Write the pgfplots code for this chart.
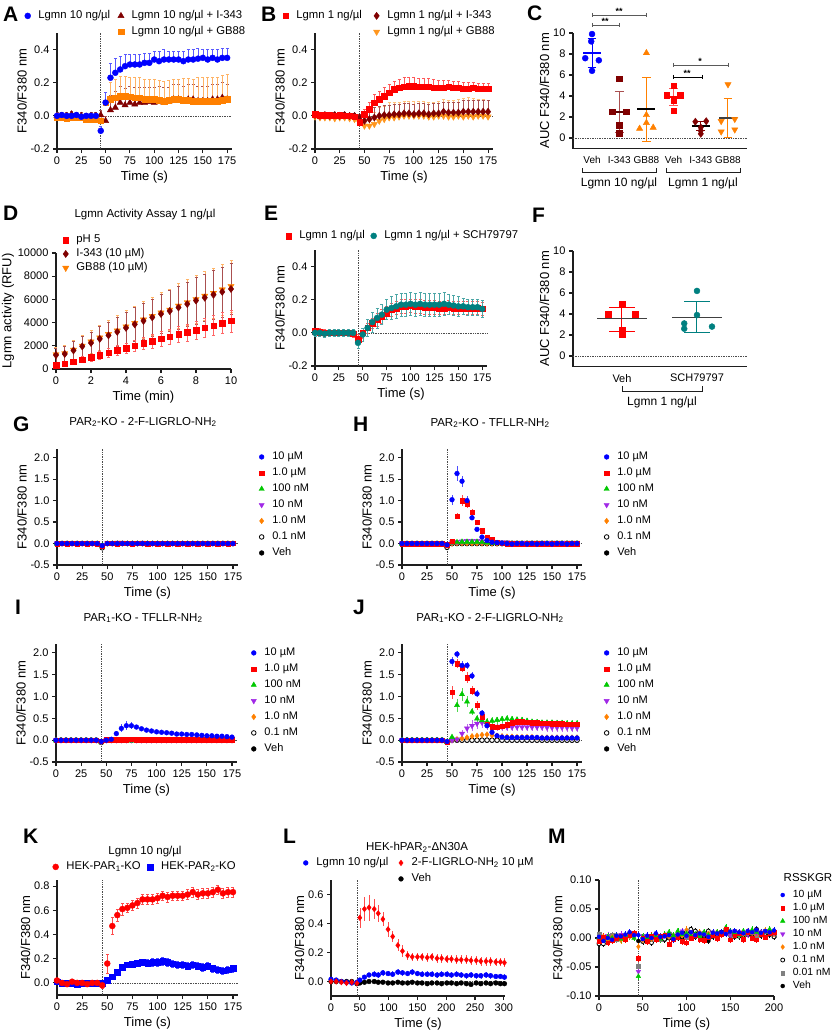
\documentclass[border=0pt]{standalone}
\usepackage{fontspec}
\setmainfont{Liberation Sans}
\usepackage{pgfplots}
\usepackage{pgfplotstable}
\pgfplotsset{compat=1.18}

\definecolor{pblue}{RGB}{0,0,255}
\definecolor{pred}{RGB}{255,0,0}
\definecolor{pmar}{RGB}{128,0,0}
\definecolor{pmarL}{RGB}{170,80,80}
\definecolor{porA}{RGB}{255,128,0}
\definecolor{porB}{RGB}{255,150,30}
\definecolor{predL}{RGB}{255,90,90}
\definecolor{pgreen}{RGB}{0,200,0}
\definecolor{ppur}{RGB}{160,40,230}
\definecolor{pteal}{RGB}{0,128,128}
\definecolor{pgrey}{RGB}{128,128,128}
\definecolor{axc}{RGB}{30,30,30}
\definecolor{sigc}{RGB}{90,90,90}

\newcommand{\lf}{\fontsize{11.3}{13}\selectfont}
\newcommand{\lfs}{\fontsize{11}{13}\selectfont}
\newcommand{\lfm}{\fontsize{10.4}{12}\selectfont}

\pgfplotsset{
 prism/.style={scale only axis, anchor=south west,
  axis x line=bottom, axis y line=left,
  axis line style={line width=1.3pt, axc, -},
  tick style={line width=1.1pt, axc},
  tick align=outside, major tick length=4pt,
  enlargelimits=false, clip=false, scaled ticks=false,
  tick label style={font=\fontsize{11}{13}\selectfont},
  label style={font=\fontsize{13}{15}\selectfont},
  ylabel style={yshift=-3pt},
  /pgf/number format/assume math mode=true,
  legend cell align=left,
  legend style={draw=none, fill=none, inner sep=0pt, outer sep=0pt, anchor=north west,
    font=\fontsize{11.3}{13}\selectfont, row sep=2.2pt,
    nodes={inner sep=1.5pt, text height=8.2pt, text depth=2.6pt}},
  legend image code/.code={\path (0pt,-2pt) (14pt,2pt); \draw[##1] plot coordinates {(5pt,0pt)};},
 },
 tfmt/.style={yticklabel style={/pgf/number format/fixed, /pgf/number format/fixed zerofill, /pgf/number format/precision=#1}},
 vl/.style={densely dotted, line width=0.7pt, black!70, forget plot},
 eb/.style={/pgfplots/error bars/y dir=#1, /pgfplots/error bars/y explicit,
   /pgfplots/error bars/error mark options={rotate=90, mark size=1.5pt, line width=0.5pt}},
 ebn/.style={/pgfplots/error bars/y dir=both, /pgfplots/error bars/y explicit,
   /pgfplots/error bars/error mark=none},
 ebf/.style={/pgfplots/error bars/y dir=both, /pgfplots/error bars/y fixed=#1,
   /pgfplots/error bars/error mark=none},
 ebc/.style={/pgfplots/error bars/error bar style={line width=0.5pt, color=#1}},
 bC/.style={only marks, mark=*, color=#1, mark size=3pt},
 bS/.style={only marks, mark=square*, color=#1, mark size=2.8pt},
 bT/.style={only marks, mark=triangle*, color=#1, mark size=3.6pt},
 bV/.style={only marks, mark=triangle*, color=#1, mark size=3.6pt, mark options={rotate=180}},
 bD/.style={only marks, mark=diamond*, color=#1, mark size=3.6pt},
 sC/.style={only marks, mark=*, color=#1, mark size=2.4pt},
 sS/.style={only marks, mark=square*, color=#1, mark size=2.2pt},
 sT/.style={only marks, mark=triangle*, color=#1, mark size=3pt},
 sV/.style={only marks, mark=triangle*, color=#1, mark size=3pt, mark options={rotate=180}},
 sD/.style={only marks, mark=diamond*, color=#1, mark size=2.8pt},
 sO/.style={only marks, mark=*, color=black, mark size=2.3pt, mark options={fill=white, line width=0.8pt}},
}

\newcommand{\plet}[3]{\node[anchor=base west, inner sep=0pt, font=\fontsize{21}{24}\selectfont\bfseries] at (#1pt,-#2pt) {#3};}
\newcommand{\ptit}[3]{\node[anchor=center, inner sep=0pt, font=\fontsize{11.5}{14}\selectfont] at (#1pt,-#2pt) {#3};}
\newcommand{\sdbar}[6]{%
 \addplot[#1, line width=1pt, forget plot] coordinates {(#2,#3)(#2,#4)};
 \addplot[#1, line width=1pt, forget plot] coordinates {(#5,#4)(#6,#4)};
 \addplot[#1, line width=1pt, forget plot] coordinates {(#5,#3)(#6,#3)};}
\newcommand{\mline}[4]{\addplot[#1, line width=1.3pt, forget plot] coordinates {(#2,#4)(#3,#4)};}
\newcommand{\legseven}{%
 \addlegendimage{sC=pblue}\addlegendentry{\lfs 10 µM}
 \addlegendimage{sS=pred}\addlegendentry{\lfs 1.0 µM}
 \addlegendimage{sT=pgreen}\addlegendentry{\lfs 100 nM}
 \addlegendimage{sV=ppur}\addlegendentry{\lfs 10 nM}
 \addlegendimage{sD=porA}\addlegendentry{\lfs 1.0 nM}
 \addlegendimage{sO}\addlegendentry{\lfs 0.1 nM}
 \addlegendimage{sC=black}\addlegendentry{\lfs Veh}}

\pgfplotstableread{
t b eb m em o eo
0 0.000 0.01 0.000 0.02 -0.010 0.02
5 0.005 0.01 0.000 0.02 -0.010 0.02
10 0.000 0.01 0.000 0.02 -0.015 0.02
15 0.000 0.01 0.010 0.02 -0.010 0.02
20 0.005 0.01 0.000 0.02 -0.010 0.02
25 -0.005 0.01 0.000 0.02 -0.010 0.02
30 0.000 0.01 -0.005 0.02 -0.020 0.02
35 0.000 0.01 0.000 0.02 -0.020 0.02
40 0.000 0.01 0.000 0.02 -0.020 0.02
45 -0.090 0.03 0.005 0.03 -0.030 0.03
50 0.080 0.06 -0.030 0.03 0.080 0.06
55 0.230 0.09 0.035 0.09 0.100 0.10
60 0.260 0.09 0.050 0.10 0.110 0.11
65 0.280 0.08 0.080 0.10 0.120 0.12
70 0.300 0.07 0.065 0.10 0.120 0.12
75 0.310 0.06 0.080 0.10 0.115 0.12
80 0.310 0.06 0.070 0.10 0.110 0.12
85 0.310 0.06 0.080 0.09 0.110 0.12
90 0.320 0.06 0.080 0.09 0.100 0.12
95 0.320 0.06 0.085 0.09 0.100 0.12
100 0.340 0.05 0.080 0.09 0.100 0.12
105 0.330 0.06 0.090 0.09 0.095 0.12
110 0.340 0.06 0.080 0.09 0.090 0.12
115 0.340 0.05 0.085 0.09 0.095 0.12
120 0.340 0.05 0.100 0.09 0.100 0.12
125 0.340 0.05 0.100 0.09 0.100 0.12
130 0.330 0.06 0.090 0.09 0.095 0.13
135 0.340 0.06 0.100 0.09 0.095 0.13
140 0.340 0.06 0.100 0.09 0.090 0.13
145 0.345 0.06 0.090 0.09 0.090 0.14
150 0.350 0.05 0.090 0.09 0.090 0.14
155 0.340 0.06 0.090 0.09 0.090 0.14
160 0.350 0.05 0.100 0.09 0.090 0.14
165 0.340 0.06 0.100 0.09 0.090 0.14
170 0.350 0.06 0.110 0.09 0.095 0.15
175 0.350 0.06 0.100 0.09 0.100 0.15
}\tA

\pgfplotstableread{
t r er m em o eo
0 0.010 0.01 0.005 0.015 -0.005 0.02
5 0.005 0.01 0.000 0.015 -0.010 0.02
10 0.005 0.01 0.005 0.015 -0.010 0.02
15 0.005 0.01 0.000 0.015 -0.010 0.02
20 0.000 0.01 0.005 0.015 -0.015 0.02
25 0.005 0.01 0.000 0.015 -0.010 0.02
30 0.000 0.01 0.005 0.015 -0.010 0.02
35 0.000 0.01 0.000 0.015 -0.015 0.02
40 -0.005 0.01 0.000 0.015 -0.020 0.02
45 -0.040 0.02 -0.010 0.02 -0.040 0.03
50 0.010 0.03 -0.030 0.04 -0.060 0.05
55 0.040 0.04 -0.020 0.05 -0.060 0.06
60 0.080 0.05 -0.010 0.06 -0.050 0.07
65 0.100 0.05 0.000 0.06 -0.030 0.08
70 0.120 0.05 0.005 0.06 -0.020 0.08
75 0.140 0.05 0.005 0.06 -0.010 0.09
80 0.160 0.05 0.010 0.06 -0.010 0.09
85 0.170 0.05 0.010 0.06 -0.005 0.09
90 0.175 0.055 0.015 0.06 0.000 0.09
95 0.180 0.055 0.015 0.06 0.000 0.09
100 0.180 0.055 0.010 0.06 0.000 0.09
105 0.175 0.05 0.015 0.06 0.000 0.09
110 0.175 0.05 0.015 0.06 0.000 0.09
115 0.175 0.05 0.010 0.06 -0.005 0.09
120 0.170 0.05 0.015 0.06 -0.005 0.09
125 0.170 0.045 0.015 0.06 0.000 0.09
130 0.170 0.045 0.025 0.06 0.000 0.10
135 0.175 0.04 0.020 0.06 -0.005 0.10
140 0.170 0.04 0.020 0.06 -0.005 0.10
145 0.170 0.04 0.020 0.06 0.000 0.10
150 0.165 0.035 0.025 0.07 -0.005 0.11
155 0.165 0.035 0.025 0.07 0.000 0.11
160 0.170 0.035 0.025 0.07 -0.005 0.11
165 0.165 0.03 0.025 0.07 0.000 0.10
170 0.165 0.03 0.025 0.07 0.000 0.10
175 0.165 0.03 0.025 0.07 -0.005 0.10
}\tB

\pgfplotstableread{
t p ep i ei g eg
0 350 150 1200 600 1250 650
0.5 450 180 1300 650 1350 700
1 620 220 1600 750 1650 800
1.5 800 260 1950 850 2000 900
2 1000 300 2250 950 2350 1000
2.5 1200 340 2600 1050 2700 1100
3 1400 380 2900 1150 3000 1200
3.5 1620 420 3200 1250 3300 1300
4 1800 460 3550 1350 3650 1400
4.5 2000 500 3850 1450 3950 1500
5 2200 540 4150 1550 4250 1600
5.5 2400 580 4450 1600 4550 1650
6 2600 620 4750 1700 4850 1750
6.5 2780 660 5000 1750 5100 1800
7 2980 700 5300 1850 5450 1900
7.5 3150 740 5600 1900 5750 1950
8 3350 780 5900 2000 6000 2050
8.5 3550 820 6150 2050 6300 2100
9 3750 860 6400 2100 6550 2150
9.5 3950 900 6650 2150 6850 2200
10 4150 940 6900 2200 7150 2250
}\tD

\pgfplotstableread{
t r er s es
0 0.010 0.02 0.000 0.02
5 0.005 0.02 0.000 0.02
10 0.000 0.02 -0.005 0.02
15 0.000 0.02 0.000 0.02
20 0.000 0.02 0.000 0.02
25 0.000 0.02 0.000 0.02
30 0.000 0.02 0.000 0.02
35 0.000 0.02 0.000 0.02
40 -0.005 0.02 0.000 0.02
45 -0.040 0.03 -0.060 0.03
50 0.000 0.03 -0.010 0.04
55 0.030 0.03 0.030 0.05
60 0.060 0.03 0.065 0.06
65 0.080 0.04 0.090 0.06
70 0.100 0.04 0.110 0.06
75 0.120 0.04 0.140 0.06
80 0.140 0.04 0.150 0.07
85 0.150 0.04 0.160 0.07
90 0.160 0.04 0.170 0.07
95 0.160 0.04 0.170 0.07
100 0.165 0.04 0.175 0.07
105 0.160 0.04 0.170 0.07
110 0.160 0.04 0.175 0.07
115 0.155 0.04 0.170 0.07
120 0.155 0.04 0.170 0.07
125 0.155 0.04 0.170 0.07
130 0.150 0.04 0.170 0.07
135 0.150 0.04 0.175 0.07
140 0.155 0.04 0.170 0.06
145 0.150 0.04 0.165 0.06
150 0.150 0.04 0.160 0.06
155 0.150 0.04 0.160 0.05
160 0.150 0.04 0.155 0.05
165 0.150 0.04 0.155 0.05
170 0.150 0.04 0.155 0.05
175 0.145 0.04 0.145 0.05
}\tE

\pgfplotstableread{
t a b c d e f g
0 0 0 -0.01 0.01 0 0 0
5 0 0.01 -0.01 0.01 0 0 0
10 0 0 -0.01 0.01 0 0 0
15 0 0.01 -0.01 0.01 0 0 0
20 0 0 -0.01 0.01 0 0 0
25 0 0.01 -0.01 0.01 0 0 0
30 0 0 -0.01 0.01 0 0 0
35 0 0.01 -0.01 0.01 0 0 0
40 0 0 -0.01 0.01 0 0 0
45 -0.05 -0.06 -0.05 -0.04 -0.06 -0.10 -0.08
50 0 0.01 -0.01 0.01 0 0 0
55 0 0.01 -0.01 0.01 0 0 0
60 0 0 -0.01 0.02 0 0 0
65 0 0.01 -0.01 0.02 0 0 0
70 0 0.01 -0.01 0.01 0 0 0
75 0 0 -0.01 0.01 0 0 0
80 0 0.01 -0.01 0.01 0 0 0
85 0 0.01 -0.01 0.02 0 0 0
90 0 0 -0.01 0.01 0 0 0
95 0 0.01 -0.01 0.01 0 0 0
100 0 0 -0.01 0.01 0 0 0
105 0 0.01 -0.01 0.01 0 0 0
110 0 0 -0.01 0.01 0 0 0
115 0 0.01 -0.01 0.01 0 0 0
120 0 0 -0.01 0.01 0 0 0
125 0 0.01 -0.01 0.01 0 0 0
130 0 0 -0.01 0.01 0 0 0
135 0 0.01 -0.01 0.01 0 0 0
140 0 0 -0.01 0.01 0 0 0
145 0 0.01 -0.01 0.01 0 0 0
150 0 0 -0.01 0.01 0 0 0
155 0 0.01 -0.01 0.01 0 0 0
160 0 0 -0.01 0.01 0 0 0
165 0 0.01 -0.01 0.01 0 0 0
170 0 0 -0.01 0.01 0 0 0
175 0 0.01 -0.01 0.01 0 0 0
}\tG

\pgfplotstableread{
t a ea b eb c d e f g
0 0.00 0.02 0.00 0.02 -0.01 0.01 0.00 0.00 0.00
5 0.00 0.02 0.00 0.02 -0.01 0.01 0.00 0.00 0.00
10 0.00 0.02 0.00 0.02 -0.01 0.01 0.00 0.00 0.00
15 0.00 0.02 0.00 0.02 -0.01 0.01 0.00 0.00 0.00
20 0.00 0.02 0.00 0.02 -0.01 0.01 0.00 0.00 0.00
25 0.00 0.02 0.00 0.02 -0.01 0.01 0.00 0.00 0.00
30 0.00 0.02 0.00 0.02 -0.01 0.01 0.00 0.00 0.00
35 0.00 0.02 0.00 0.02 -0.01 0.01 0.00 0.00 0.00
40 0.00 0.02 0.00 0.02 -0.01 0.01 0.00 0.00 0.00
45 -0.03 0.02 -0.03 0.02 -0.04 -0.03 -0.05 -0.09 -0.06
50 1.02 0.12 0.05 0.04 0.02 0.03 0.00 0.00 0.00
55 1.63 0.18 0.64 0.08 0.03 0.04 0.01 0.00 0.00
60 1.45 0.13 1.00 0.12 0.04 0.05 0.01 0.00 0.00
65 1.00 0.10 0.93 0.10 0.04 0.06 0.01 0.00 0.00
70 0.60 0.06 0.73 0.07 0.04 0.06 0.01 0.00 0.00
75 0.33 0.04 0.49 0.05 0.04 0.06 0.01 0.00 0.00
80 0.15 0.03 0.30 0.04 0.03 0.05 0.01 0.00 0.00
85 0.07 0.02 0.15 0.03 0.02 0.05 0.00 0.00 0.00
90 0.03 0.02 0.09 0.02 0.01 0.04 0.00 0.00 0.00
95 0.02 0.02 0.03 0.02 0.01 0.03 0.00 0.00 0.00
100 0.01 0.02 0.01 0.02 0.00 0.03 0.00 0.00 0.00
105 0.00 0.02 0.00 0.02 0.00 0.03 0.00 0.00 0.00
110 -0.01 0.02 0.00 0.02 0.00 0.02 0.00 0.00 0.00
115 0.00 0.02 0.00 0.02 0.00 0.02 0.00 0.00 0.00
120 0.00 0.02 -0.01 0.02 0.00 0.02 0.00 0.00 0.00
125 -0.01 0.02 0.00 0.02 0.00 0.02 0.00 0.00 0.00
130 0.00 0.02 0.00 0.02 0.00 0.02 0.00 0.00 0.00
135 -0.01 0.02 0.00 0.02 0.00 0.02 0.00 0.00 0.00
140 0.00 0.02 0.00 0.02 0.00 0.02 0.00 0.00 0.00
145 0.00 0.02 -0.01 0.02 0.00 0.02 0.00 0.00 0.00
150 -0.01 0.02 0.00 0.02 0.00 0.02 0.00 0.00 0.00
155 0.00 0.02 0.00 0.02 0.00 0.02 0.00 0.00 0.00
160 0.00 0.02 -0.01 0.02 0.00 0.02 0.00 0.00 0.00
165 -0.01 0.02 0.00 0.02 0.00 0.02 0.00 0.00 0.00
170 0.00 0.02 0.00 0.02 0.00 0.02 0.00 0.00 0.00
175 0.00 0.02 0.00 0.02 0.00 0.02 0.00 0.00 0.00
}\tH

\pgfplotstableread{
t a ea b c d e f g
0 0.00 0.02 0.00 -0.01 0.00 0.00 0.00 0.00
5 0.00 0.02 0.00 -0.01 0.00 0.00 0.00 0.00
10 0.00 0.02 0.00 -0.01 0.00 0.00 0.00 0.00
15 0.00 0.02 0.00 -0.01 0.00 0.00 0.00 0.00
20 0.00 0.02 0.00 -0.01 0.00 0.00 0.00 0.00
25 0.00 0.02 0.00 -0.01 0.00 0.00 0.00 0.00
30 0.00 0.02 0.00 -0.01 0.00 0.00 0.00 0.00
35 0.00 0.02 0.00 -0.01 0.00 0.00 0.00 0.00
40 0.00 0.02 0.00 -0.01 0.00 0.00 0.00 0.00
45 -0.03 0.02 -0.02 -0.05 -0.04 -0.04 -0.05 -0.05
50 0.00 0.02 0.01 -0.01 0.00 0.00 0.00 0.00
55 0.02 0.03 0.01 -0.01 0.00 0.00 0.00 0.00
60 0.15 0.05 0.01 -0.01 0.00 0.00 0.00 0.00
65 0.27 0.09 0.01 -0.01 0.00 0.00 0.00 0.00
70 0.33 0.10 0.01 -0.01 0.00 0.00 0.00 0.00
75 0.33 0.08 0.02 -0.01 0.00 0.00 0.00 0.00
80 0.30 0.05 0.01 -0.01 0.00 0.00 0.00 0.00
85 0.26 0.04 0.01 -0.01 0.00 0.00 0.00 0.00
90 0.23 0.03 0.01 -0.01 0.00 0.00 0.00 0.00
95 0.21 0.03 0.01 -0.01 0.00 0.00 0.00 0.00
100 0.19 0.03 0.01 -0.01 0.00 0.00 0.00 0.00
105 0.18 0.02 0.01 -0.01 0.00 0.00 0.00 0.00
110 0.17 0.02 0.01 -0.01 0.00 0.00 0.00 0.00
115 0.16 0.02 0.01 -0.01 0.00 0.00 0.00 0.00
120 0.14 0.02 0.01 -0.01 0.00 0.00 0.00 0.00
125 0.14 0.02 0.01 -0.01 0.00 0.00 0.00 0.00
130 0.13 0.02 0.01 -0.01 0.00 0.00 0.00 0.00
135 0.13 0.02 0.01 -0.01 0.00 0.00 0.00 0.00
140 0.12 0.02 0.01 -0.01 0.00 0.00 0.00 0.00
145 0.11 0.02 0.01 -0.01 0.00 0.00 0.00 0.00
150 0.10 0.02 0.01 -0.01 0.00 0.00 0.00 0.00
155 0.10 0.02 0.01 -0.01 0.00 0.00 0.00 0.00
160 0.09 0.02 0.01 -0.01 0.00 0.00 0.00 0.00
165 0.09 0.02 0.01 -0.01 0.00 0.00 0.00 0.00
170 0.08 0.02 0.01 -0.01 0.00 0.00 0.00 0.00
175 0.07 0.02 0.01 -0.01 0.00 0.00 0.00 0.00
}\tI

\pgfplotstableread{
t a ea b eb c ec d ed e f g
0 0.00 0.02 0.00 0.02 0.00 0.02 0.00 0.02 0.00 0.00 0.00
5 0.00 0.02 0.00 0.02 0.00 0.02 0.00 0.02 0.00 0.00 0.00
10 0.00 0.02 0.00 0.02 0.00 0.02 0.00 0.02 0.00 0.00 0.00
15 0.00 0.02 0.00 0.02 0.00 0.02 0.00 0.02 0.00 0.00 0.00
20 0.00 0.02 0.00 0.02 0.00 0.02 0.00 0.02 0.00 0.00 0.00
25 0.00 0.02 0.00 0.02 0.00 0.02 0.00 0.02 0.00 0.00 0.00
30 0.00 0.02 0.00 0.02 0.00 0.02 0.00 0.02 0.00 0.00 0.00
35 0.00 0.02 0.00 0.02 0.00 0.02 0.00 0.02 0.00 0.00 0.00
40 0.00 0.02 0.00 0.02 0.00 0.02 0.00 0.02 0.00 0.00 0.00
45 -0.03 0.03 -0.04 0.03 -0.04 0.03 -0.04 0.03 -0.04 -0.05 -0.05
50 1.80 0.10 1.10 0.15 0.07 0.03 0.00 0.02 0.00 0.00 0.00
55 1.97 0.08 1.75 0.10 0.80 0.15 0.02 0.03 0.02 0.00 0.00
60 1.71 0.10 1.66 0.10 1.05 0.15 0.15 0.08 0.04 0.00 0.00
65 1.71 0.08 1.43 0.12 0.88 0.12 0.27 0.10 0.06 0.00 0.00
70 1.47 0.08 1.13 0.10 0.65 0.08 0.33 0.12 0.09 0.00 0.00
75 1.06 0.08 0.80 0.10 0.49 0.08 0.38 0.12 0.10 0.00 0.00
80 0.62 0.06 0.54 0.08 0.45 0.08 0.40 0.12 0.12 0.00 0.00
85 0.33 0.05 0.36 0.06 0.42 0.08 0.35 0.12 0.13 0.00 0.00
90 0.18 0.04 0.31 0.06 0.44 0.08 0.32 0.10 0.11 0.00 0.00
95 0.10 0.03 0.30 0.06 0.46 0.08 0.31 0.10 0.10 0.00 0.00
100 0.07 0.03 0.32 0.06 0.48 0.08 0.31 0.10 0.09 0.00 0.00
105 0.06 0.03 0.35 0.06 0.49 0.08 0.30 0.10 0.08 0.00 0.00
110 0.06 0.03 0.40 0.05 0.48 0.08 0.30 0.10 0.08 0.00 0.00
115 0.06 0.03 0.42 0.05 0.47 0.07 0.30 0.10 0.07 0.00 0.00
120 0.06 0.03 0.42 0.05 0.46 0.07 0.30 0.10 0.07 0.00 0.00
125 0.06 0.03 0.41 0.05 0.44 0.07 0.30 0.10 0.07 0.00 0.00
130 0.06 0.03 0.40 0.05 0.42 0.07 0.30 0.10 0.07 0.00 0.00
135 0.06 0.03 0.40 0.05 0.41 0.07 0.30 0.10 0.06 0.00 0.00
140 0.05 0.03 0.39 0.05 0.40 0.07 0.30 0.10 0.06 0.00 0.00
145 0.05 0.03 0.39 0.05 0.40 0.07 0.29 0.10 0.06 0.00 0.00
150 0.05 0.03 0.38 0.05 0.40 0.07 0.29 0.10 0.06 0.00 0.00
155 0.05 0.03 0.38 0.05 0.39 0.07 0.29 0.10 0.06 0.00 0.00
160 0.05 0.03 0.38 0.05 0.39 0.07 0.29 0.10 0.06 0.00 0.00
165 0.05 0.03 0.37 0.05 0.38 0.07 0.29 0.10 0.06 0.00 0.00
170 0.05 0.03 0.37 0.05 0.38 0.07 0.28 0.10 0.06 0.00 0.00
175 0.05 0.03 0.37 0.05 0.38 0.07 0.28 0.10 0.06 0.00 0.00
}\tJ

\pgfplotstableread{
t r er b eb
0 0.02 0.02 0.01 0.01
5 0.00 0.02 0.00 0.01
10 -0.01 0.02 0.00 0.01
15 0.01 0.02 0.00 0.01
20 0.00 0.02 -0.01 0.01
25 0.00 0.02 0.00 0.01
30 -0.01 0.02 0.00 0.01
35 0.00 0.02 0.00 0.01
40 0.00 0.02 0.00 0.01
45 -0.02 0.02 0.00 0.01
50 0.16 0.08 0.02 0.01
55 0.47 0.07 0.05 0.01
60 0.56 0.05 0.09 0.02
65 0.61 0.05 0.13 0.02
70 0.62 0.04 0.15 0.02
75 0.64 0.04 0.155 0.02
80 0.66 0.04 0.165 0.02
85 0.69 0.04 0.17 0.02
90 0.69 0.04 0.165 0.03
95 0.69 0.04 0.17 0.03
100 0.70 0.04 0.17 0.03
105 0.72 0.04 0.18 0.03
110 0.71 0.04 0.17 0.03
115 0.72 0.04 0.16 0.03
120 0.72 0.04 0.15 0.03
125 0.72 0.04 0.15 0.03
130 0.73 0.04 0.14 0.03
135 0.75 0.04 0.15 0.03
140 0.73 0.04 0.14 0.03
145 0.74 0.04 0.13 0.03
150 0.74 0.04 0.14 0.03
155 0.75 0.04 0.12 0.03
160 0.77 0.04 0.11 0.03
165 0.74 0.04 0.10 0.03
170 0.75 0.04 0.11 0.03
175 0.75 0.04 0.12 0.03
}\tK

\pgfplotstableread{
t r er b eb k
0 0.000 0.01 0.015 0.01 0.000
9 0.000 0.01 0.010 0.01 0.000
18 -0.005 0.01 0.000 0.01 0.000
27 -0.010 0.01 -0.005 0.01 0.000
36 -0.005 0.01 -0.010 0.01 0.000
45 -0.012 0.01 -0.005 0.01 -0.015
50 0.440 0.07 0.010 0.01 -0.010
58 0.500 0.08 0.030 0.015 -0.005
66 0.510 0.09 0.045 0.015 0.000
75 0.500 0.07 0.050 0.02 0.000
82 0.470 0.06 0.045 0.02 -0.005
90 0.430 0.05 0.060 0.02 -0.005
99 0.360 0.05 0.055 0.02 -0.010
107 0.310 0.04 0.050 0.02 -0.010
116 0.250 0.04 0.065 0.02 -0.005
124 0.210 0.04 0.060 0.02 -0.010
133 0.180 0.03 0.055 0.02 -0.010
141 0.170 0.03 0.065 0.02 -0.005
150 0.170 0.03 0.055 0.02 -0.010
158 0.170 0.03 0.050 0.02 -0.010
167 0.165 0.03 0.050 0.02 -0.015
175 0.170 0.03 0.050 0.02 -0.010
184 0.160 0.03 0.045 0.02 -0.010
192 0.160 0.03 0.050 0.02 -0.015
201 0.155 0.03 0.050 0.02 -0.010
209 0.155 0.03 0.045 0.02 -0.010
218 0.150 0.03 0.050 0.02 -0.015
226 0.150 0.03 0.045 0.02 -0.010
235 0.150 0.03 0.040 0.02 -0.015
243 0.145 0.03 0.045 0.02 -0.020
252 0.145 0.03 0.040 0.02 -0.010
260 0.140 0.03 0.040 0.02 -0.015
269 0.140 0.03 0.045 0.02 -0.010
277 0.140 0.03 0.040 0.02 -0.015
286 0.135 0.03 0.035 0.02 -0.010
294 0.135 0.03 0.035 0.02 -0.015
301 0.130 0.03 0.030 0.02 -0.015
}\tL

\pgfplotstableread{
t a b c d e f g h
0 0.002 -0.005 0.000 -0.003 0.000 -0.010 0.006 -0.008
5 -0.005 0.002 -0.003 0.000 0.003 -0.010 -0.003 -0.005
10 0.000 -0.008 0.002 0.004 -0.004 -0.006 0.002 -0.002
15 -0.003 -0.004 0.000 -0.002 0.002 0.000 0.005 0.000
20 0.004 0.000 0.004 0.002 0.000 0.004 -0.002 0.002
25 0.003 0.003 -0.002 0.006 -0.004 -0.002 0.004 0.004
30 0.006 -0.002 0.005 0.000 0.004 0.003 0.001 0.002
35 0.010 0.005 0.003 0.004 0.002 0.008 0.006 0.006
40 0.005 0.008 0.000 0.002 0.006 0.005 0.008 0.004
45 0.005 -0.035 -0.066 -0.058 -0.015 -0.035 -0.048 -0.005
50 -0.002 0.000 0.002 0.003 -0.004 -0.006 0.003 0.000
55 0.004 -0.006 0.000 -0.003 0.002 -0.004 -0.002 -0.004
60 0.000 0.004 0.004 0.002 -0.002 -0.008 0.001 -0.002
65 0.008 -0.002 0.003 0.006 0.004 0.000 0.004 0.002
70 0.002 0.003 -0.002 0.000 0.003 0.002 -0.002 0.000
75 0.003 0.005 0.006 0.004 0.006 -0.002 0.003 -0.003
80 0.005 -0.010 0.010 0.008 0.002 0.000 0.006 0.004
85 -0.002 -0.003 0.004 0.002 0.004 0.004 0.002 0.002
90 0.006 0.002 0.012 0.005 0.008 0.006 0.004 0.000
95 0.009 -0.006 0.006 0.012 0.004 0.003 0.008 -0.002
100 0.004 -0.008 0.008 0.003 0.014 0.010 0.002 0.004
105 0.010 0.000 0.004 0.010 0.006 0.015 0.006 0.006
110 0.005 0.004 0.007 0.004 0.004 0.012 0.010 0.002
115 0.008 -0.003 0.003 0.006 0.010 0.008 0.005 0.004
120 0.006 -0.004 0.010 0.008 0.005 0.005 0.008 0.000
125 0.002 0.002 0.005 0.004 0.008 0.012 0.002 -0.005
130 0.009 0.005 0.008 0.010 0.004 0.004 0.006 0.002
135 0.008 -0.001 0.010 0.006 0.010 0.002 0.004 0.004
140 0.010 0.006 0.006 0.008 0.008 0.010 0.010 0.006
145 0.007 0.015 0.018 0.009 0.012 0.014 0.008 0.008
150 0.011 -0.003 0.012 0.005 0.006 0.008 0.006 0.004
155 0.012 0.004 0.008 0.012 0.004 0.005 0.012 0.002
160 0.010 0.008 0.005 0.007 0.010 0.003 0.004 0.006
165 0.008 -0.002 0.012 0.010 0.006 0.000 0.008 0.004
170 0.012 0.010 0.009 0.006 0.012 0.006 0.006 0.008
175 0.010 0.000 0.014 0.011 0.008 0.010 0.010 0.006
180 0.014 -0.003 0.010 0.008 0.006 0.015 0.004 0.010
185 0.009 0.006 0.008 0.010 0.010 0.008 0.008 0.004
190 0.012 0.002 0.011 0.012 0.013 0.004 0.012 0.008
195 0.010 0.008 0.015 0.009 0.008 0.006 0.010 0.006
200 0.013 0.010 0.012 0.008 0.006 0.002 0.004 0.004
}\tM

\begin{document}
\begin{tikzpicture}
\useasboundingbox (0pt,0pt) rectangle (837pt,-1030pt);

\plet{3}{22}{A}\plet{261}{22}{B}\plet{527}{21}{C}
\plet{3}{220}{D}\plet{264}{220}{E}\plet{532}{222}{F}
\plet{13}{431}{G}\plet{353}{431}{H}
\plet{15}{614}{I}\plet{353}{614}{J}
\plet{23}{843}{K}\plet{283}{843}{L}\plet{548}{843}{M}

\ptit{145}{215}{Lgmn Activity Assay 1 ng/µl}
\ptit{143}{422}{PAR\textsubscript{2}-KO - 2-F-LIGRLO-NH\textsubscript{2}}
\ptit{490}{423}{PAR\textsubscript{2}-KO - TFLLR-NH\textsubscript{2}}
\ptit{143}{618}{PAR\textsubscript{1}-KO - TFLLR-NH\textsubscript{2}}
\ptit{490}{618}{PAR\textsubscript{1}-KO - 2-F-LIGRLO-NH\textsubscript{2}}
\ptit{145}{852}{Lgmn 10 ng/µl}
\ptit{417}{847}{HEK-hPAR\textsubscript{2}-ΔN30A}
\ptit{808}{878}{RSSKGR}

% ---------- A
\begin{axis}[prism, at={(57pt,-149pt)}, width=175pt, height=116pt,
 xmin=0,xmax=180,ymin=-0.2,ymax=0.5, xtick={0,25,...,175}, ytick={-0.2,0,0.2,0.4}, tfmt=1,
 xlabel={Time (s)}, ylabel={F340/F380 nm},
 legend columns=2, legend style={at={(-0.197,1.207)}, /tikz/every even column/.append style={column sep=4pt}}]
\addplot[vl] coordinates {(45,-0.2)(45,0.5)};
\addplot[vl] coordinates {(0,0)(180,0)};
\addplot[bT=pmar, eb=plus, ebc=pmarL, forget plot] table[x=t,y=m,y error=em]{\tA};
\addplot[bS=porA, eb=plus, ebc=porA!60, forget plot] table[x=t,y=o,y error=eo]{\tA};
\addplot[bC=pblue, eb=plus, ebc=pblue!65, forget plot] table[x=t,y=b,y error=eb]{\tA};
\addlegendimage{bC=pblue}\addlegendentry{\lf Lgmn 10 ng/µl}
\addlegendimage{bT=pmar}\addlegendentry{\lf Lgmn 10 ng/µl + I-343}
\addlegendimage{empty legend}\addlegendentry{}
\addlegendimage{bS=porA}\addlegendentry{\lf Lgmn 10 ng/µl + GB88}
\end{axis}

% ---------- B
\begin{axis}[prism, at={(315pt,-149pt)}, width=178pt, height=116pt,
 xmin=0,xmax=180,ymin=-0.2,ymax=0.5, xtick={0,25,...,175}, ytick={-0.2,0,0.2,0.4}, tfmt=1,
 xlabel={Time (s)}, ylabel={F340/F380 nm},
 legend columns=2, legend style={at={(-0.194,1.207)}, /tikz/every even column/.append style={column sep=8pt}}]
\addplot[vl] coordinates {(45,-0.2)(45,0.5)};
\addplot[vl] coordinates {(0,0)(180,0)};
\addplot[bV=porB, eb=plus, ebc=porB!60, forget plot] table[x=t,y=o,y error=eo]{\tB};
\addplot[bD=pmar, eb=plus, ebc=pmarL, forget plot] table[x=t,y=m,y error=em]{\tB};
\addplot[bS=pred, eb=plus, ebc=pred!65, forget plot] table[x=t,y=r,y error=er]{\tB};
\addlegendimage{bS=pred}\addlegendentry{\lf Lgmn 1 ng/µl}
\addlegendimage{bD=pmar}\addlegendentry{\lf Lgmn 1 ng/µl + I-343}
\addlegendimage{empty legend}\addlegendentry{}
\addlegendimage{bV=porB}\addlegendentry{\lf Lgmn 1 ng/µl + GB88}
\end{axis}

% ---------- C
\begin{axis}[prism, at={(573pt,-148.5pt)}, width=174pt, height=115.5pt,
 xmin=0.3,xmax=6.7,ymin=-1,ymax=10, ytick={0,2,4,6,8,10}, xtick={1,2,3,4,5,6},
 xticklabels={Veh,I-343,GB88,Veh,I-343,GB88}, every x tick/.style={draw=none},
 xticklabel style={font=\fontsize{10}{12}\selectfont},
 ylabel={AUC F340/F380 nm}]
\addplot[vl] coordinates {(0.3,0)(6.7,0)};
\sdbar{pblue}{1}{6.7}{9.5}{0.84}{1.16}
\sdbar{pmarL}{2}{0.5}{4.45}{1.84}{2.16}
\sdbar{porA}{3}{-0.3}{5.8}{2.84}{3.16}
\sdbar{predL}{4}{3.05}{4.75}{3.84}{4.16}
\sdbar{pmar}{5}{0.7}{1.6}{4.84}{5.16}
\sdbar{porA}{6}{0.05}{3.75}{5.84}{6.16}
\addplot[bC=pblue, forget plot] coordinates {(1,9.9)(0.97,9.2)(0.75,7.6)(1.25,7.4)(1,6.4)};
\addplot[bS=pmar, forget plot] coordinates {(2,5.65)(1.75,2.5)(2.25,2.5)(2,1.2)(2,0.45)};
\addplot[bT=porA, forget plot] coordinates {(3,8.1)(3,2.2)(3,1.45)(2.75,0.9)(3.25,1.0)};
\addplot[bS=pred, forget plot] coordinates {(4,5.0)(3.75,4.1)(4.25,4.1)(4,3.6)(4,2.6)};
\addplot[bD=pmar, forget plot] coordinates {(4.8,1.55)(5.2,1.6)(5,1.0)(5,0.7)(5,0.4)};
\addplot[bV=porA, forget plot] coordinates {(6,5.1)(5.75,1.6)(6.25,1.8)(5.75,0.6)(6.25,0.8)};
\mline{pblue}{0.67}{1.33}{8.1}
\mline{pmar!70!black}{1.67}{2.33}{2.47}
\mline{black}{2.67}{3.33}{2.75}
\mline{pred}{3.67}{4.33}{3.9}
\mline{black}{4.67}{5.33}{1.15}
\mline{black!75}{5.67}{6.33}{1.9}
\end{axis}
\begin{scope}[line width=0.8pt, sigc]
\draw (592pt,-13pt)--(592pt,-17pt) (592pt,-15pt)--(646pt,-15pt) (646pt,-13pt)--(646pt,-17pt);
\draw (592pt,-23pt)--(592pt,-27pt) (592pt,-25pt)--(619pt,-25pt) (619pt,-23pt)--(619pt,-27pt);
\draw (673pt,-63pt)--(673pt,-67pt) (673pt,-65pt)--(728pt,-65pt) (728pt,-63pt)--(728pt,-67pt);
\draw[black] (673pt,-75pt)--(673pt,-79pt) (673pt,-77pt)--(702pt,-77pt) (702pt,-75pt)--(702pt,-79pt);
\end{scope}
\node[font=\fontsize{9}{10}\selectfont\bfseries, inner sep=0] at (619pt,-11pt) {**};
\node[font=\fontsize{9}{10}\selectfont\bfseries, inner sep=0] at (605pt,-21pt) {**};
\node[font=\fontsize{9}{10}\selectfont\bfseries, inner sep=0] at (700pt,-61pt) {*};
\node[font=\fontsize{9}{10}\selectfont\bfseries, inner sep=0] at (687pt,-73pt) {**};
\draw[line width=0.9pt, axc] (582pt,-168pt)--(582pt,-172pt)--(656pt,-172pt)--(656pt,-168pt);
\draw[line width=0.9pt, axc] (666pt,-168pt)--(666pt,-172pt)--(740pt,-172pt)--(740pt,-168pt);
\node[font=\fontsize{12}{14}\selectfont] at (619pt,-183pt) {Lgmn 10 ng/µl};
\node[font=\fontsize{12}{14}\selectfont] at (703pt,-183pt) {Lgmn 1 ng/µl};

% ---------- D
\begin{axis}[prism, at={(56pt,-369pt)}, width=175pt, height=116pt,
 xmin=0,xmax=10,ymin=0,ymax=10000, xtick={0,2,...,10}, ytick={0,2000,...,10000},
 yticklabel style={/pgf/number format/1000 sep={}},
 xlabel={Time (min)}, ylabel={Lgmn activity (RFU)},
 legend style={at={(0.026,1.172)}, row sep=0.2pt}]
\addplot[bV=porA, eb=both, ebc=porA!60, forget plot] table[x=t,y=g,y error=eg]{\tD};
\addplot[bD=pmar, eb=both, ebc=pmarL, forget plot] table[x=t,y=i,y error=ei]{\tD};
\addplot[bS=pred, eb=both, ebc=pred!60, forget plot] table[x=t,y=p,y error=ep]{\tD};
\addlegendimage{bS=pred}\addlegendentry{\lf pH 5}
\addlegendimage{bD=pmar}\addlegendentry{\lf I-343 (10 µM)}
\addlegendimage{bV=porA}\addlegendentry{\lf GB88 (10 µM)}
\end{axis}

% ---------- E
\begin{axis}[prism, at={(315pt,-366pt)}, width=172pt, height=116pt,
 xmin=0,xmax=180,ymin=-0.2,ymax=0.5, xtick={0,25,...,175}, ytick={-0.2,0,0.2,0.4}, tfmt=1,
 xlabel={Time (s)}, ylabel={F340/F380 nm},
 legend columns=2, legend style={at={(-0.183,1.181)}, /tikz/every even column/.append style={column sep=2pt}}]
\addplot[vl] coordinates {(45,-0.2)(45,0.5)};
\addplot[vl] coordinates {(0,0)(180,0)};
\addplot[bS=pred, eb=both, ebc=pred!65, forget plot] table[x=t,y=r,y error=er]{\tE};
\addplot[bC=pteal, eb=both, ebc=pteal!70, forget plot] table[x=t,y=s,y error=es]{\tE};
\addlegendimage{bS=pred}\addlegendentry{\lf Lgmn 1 ng/µl}
\addlegendimage{bC=pteal}\addlegendentry{\lf Lgmn 1 ng/µl + SCH79797}
\end{axis}

% ---------- F
\begin{axis}[prism, at={(573pt,-366.5pt)}, width=174pt, height=115.5pt,
 xmin=0.347,xmax=2.667,ymin=-1,ymax=10, ytick={0,2,4,6,8,10}, xtick={1,2},
 xticklabels={Veh,SCH79797}, every x tick/.style={draw=none},
 ylabel={AUC F340/F380 nm}]
\addplot[vl] coordinates {(0.347,0)(2.667,0)};
\sdbar{pred}{1}{2.35}{4.65}{0.833}{1.167}
\sdbar{pteal}{2}{2.25}{5.15}{1.833}{2.167}
\addplot[bS=pred, forget plot] coordinates {(1,4.95)(0.82,4.0)(1.18,4.0)(1,2.5)(1,2.1)};
\addplot[bC=pteal, forget plot] coordinates {(2,6.2)(2,3.9)(1.83,3.1)(1.83,2.6)(2.2,2.8)};
\mline{black!75}{0.673}{1.327}{3.55}
\mline{black!75}{1.673}{2.327}{3.7}
\end{axis}
\draw[line width=0.9pt, axc] (622pt,-386pt)--(622pt,-391pt)--(702pt,-391pt)--(702pt,-386pt);
\node[font=\fontsize{12}{14}\selectfont] at (662pt,-402pt) {Lgmn 1 ng/µl};

% ---------- G
\begin{axis}[prism, at={(57pt,-565pt)}, width=181pt, height=116pt,
 xmin=0,xmax=180,ymin=-0.5,ymax=2.2, xtick={0,25,...,175}, ytick={-0.5,0,0.5,1,1.5,2}, tfmt=1,
 xlabel={Time (s)}, ylabel={F340/F380 nm}, legend style={at={(1.102,0.991)}}]
\addplot[vl] coordinates {(45,-0.5)(45,2.2)};
\addplot[vl] coordinates {(0,0)(180,0)};
\addplot[sC=black, forget plot] table[x=t,y=g]{\tG};
\addplot[sO, forget plot] table[x=t,y=f]{\tG};
\addplot[sD=porA, forget plot] table[x=t,y=e]{\tG};
\addplot[sV=ppur, forget plot] table[x=t,y=d]{\tG};
\addplot[sT=pgreen, forget plot] table[x=t,y=c]{\tG};
\addplot[sS=pred, forget plot] table[x=t,y=b]{\tG};
\addplot[sC=pblue, forget plot] table[x=t,y=a]{\tG};
\legseven
\end{axis}

% ---------- H
\begin{axis}[prism, at={(402pt,-565pt)}, width=180pt, height=116pt,
 xmin=0,xmax=180,ymin=-0.5,ymax=2.2, xtick={0,25,...,175}, ytick={-0.5,0,0.5,1,1.5,2}, tfmt=1,
 xlabel={Time (s)}, ylabel={F340/F380 nm}, legend style={at={(1.108,0.991)}}]
\addplot[vl] coordinates {(45,-0.5)(45,2.2)};
\addplot[vl] coordinates {(0,0)(180,0)};
\addplot[sC=black, forget plot] table[x=t,y=g]{\tH};
\addplot[sO, forget plot] table[x=t,y=f]{\tH};
\addplot[sD=porA, forget plot] table[x=t,y=e]{\tH};
\addplot[sV=ppur, forget plot] table[x=t,y=d]{\tH};
\addplot[sT=pgreen, forget plot] table[x=t,y=c]{\tH};
\addplot[sS=pred, ebn, ebc=pred!70, forget plot] table[x=t,y=b,y error=eb]{\tH};
\addplot[sC=pblue, ebn, ebc=pblue!70, forget plot] table[x=t,y=a,y error=ea]{\tH};
\legseven
\end{axis}

% ---------- I
\begin{axis}[prism, at={(56pt,-762pt)}, width=181pt, height=118pt,
 xmin=0,xmax=180,ymin=-0.5,ymax=2.2, xtick={0,25,...,175}, ytick={-0.5,0,0.5,1,1.5,2}, tfmt=1,
 xlabel={Time (s)}, ylabel={F340/F380 nm}, legend style={at={(1.064,0.983)}}]
\addplot[vl] coordinates {(45,-0.5)(45,2.2)};
\addplot[vl] coordinates {(0,0)(180,0)};
\addplot[sC=black, forget plot] table[x=t,y=g]{\tI};
\addplot[sO, forget plot] table[x=t,y=f]{\tI};
\addplot[sD=porA, forget plot] table[x=t,y=e]{\tI};
\addplot[sV=ppur, forget plot] table[x=t,y=d]{\tI};
\addplot[sT=pgreen, forget plot] table[x=t,y=c]{\tI};
\addplot[sS=pred, forget plot] table[x=t,y=b]{\tI};
\addplot[sC=pblue, ebn, ebc=pblue!70, forget plot] table[x=t,y=a,y error=ea]{\tI};
\legseven
\end{axis}

% ---------- J
\begin{axis}[prism, at={(402pt,-762pt)}, width=180pt, height=118pt,
 xmin=0,xmax=180,ymin=-0.5,ymax=2.2, xtick={0,25,...,175}, ytick={-0.5,0,0.5,1,1.5,2}, tfmt=1,
 xlabel={Time (s)}, ylabel={F340/F380 nm}, legend style={at={(1.108,0.983)}}]
\addplot[vl] coordinates {(45,-0.5)(45,2.2)};
\addplot[vl] coordinates {(0,0)(180,0)};
\addplot[sC=black, forget plot] table[x=t,y=g]{\tJ};
\addplot[sO, forget plot] table[x=t,y=f]{\tJ};
\addplot[sD=porA, ebf=0.03, ebc=porA!70, forget plot] table[x=t,y=e]{\tJ};
\addplot[sV=ppur, ebn, ebc=ppur!70, forget plot] table[x=t,y=d,y error=ed]{\tJ};
\addplot[sT=pgreen, ebn, ebc=pgreen!70, forget plot] table[x=t,y=c,y error=ec]{\tJ};
\addplot[sS=pred, ebn, ebc=pred!70, forget plot] table[x=t,y=b,y error=eb]{\tJ};
\addplot[sC=pblue, ebn, ebc=pblue!70, forget plot] table[x=t,y=a,y error=ea]{\tJ};
\legseven
\end{axis}

% ---------- K
\begin{axis}[prism, at={(57pt,-995pt)}, width=181pt, height=115pt,
 xmin=0,xmax=180,ymin=-0.1,ymax=0.85, xtick={0,25,...,175}, ytick={0,0.2,0.4,0.6,0.8}, tfmt=1,
 xlabel={Time (s)}, ylabel={F340/F380 nm},
 legend columns=2, legend style={at={(-0.036,1.174)}, /tikz/every even column/.append style={column sep=3pt}}]
\addplot[vl] coordinates {(45,-0.1)(45,0.85)};
\addplot[vl] coordinates {(0,0)(180,0)};
\addplot[bS=pblue, eb=both, ebc=pblue!70, forget plot] table[x=t,y=b,y error=eb]{\tK};
\addplot[bC=pred, eb=both, ebc=pred!70, forget plot] table[x=t,y=r,y error=er]{\tK};
\addlegendimage{bC=pred}\addlegendentry{\lf HEK-PAR\textsubscript{1}-KO}
\addlegendimage{bS=pblue}\addlegendentry{\lf HEK-PAR\textsubscript{2}-KO}
\end{axis}

% ---------- L
\begin{axis}[prism, at={(331pt,-996pt)}, width=174pt, height=116pt,
 xmin=0,xmax=302,ymin=-0.1,ymax=0.7, xtick={0,50,...,300}, ytick={0,0.2,0.4,0.6}, tfmt=1,
 xlabel={Time (s)}, ylabel={F340/F380 nm},
 legend columns=2, legend style={at={(-0.175,1.207)}, /tikz/every even column/.append style={column sep=6pt}}]
\addplot[vl] coordinates {(45,-0.1)(45,0.7)};
\addplot[vl] coordinates {(0,0)(302,0)};
\addplot[sC=black, forget plot] table[x=t,y=k]{\tL};
\addplot[sC=pblue, ebn, ebc=pblue!70, forget plot] table[x=t,y=b,y error=eb]{\tL};
\addplot[sD=pred, ebn, ebc=pred!70, forget plot] table[x=t,y=r,y error=er]{\tL};
\addlegendimage{sC=pblue}\addlegendentry{\lf Lgmn 10 ng/µl}
\addlegendimage{sD=pred}\addlegendentry{\lf 2-F-LIGRLO-NH\textsubscript{2} 10 µM}
\addlegendimage{empty legend}\addlegendentry{}
\addlegendimage{sC=black}\addlegendentry{\lf Veh}
\end{axis}

% ---------- M
\begin{axis}[prism, at={(599pt,-996pt)}, width=175pt, height=116pt,
 xmin=0,xmax=200,ymin=-0.1,ymax=0.1, xtick={0,50,...,200}, ytick={-0.1,-0.05,0,0.05,0.1}, tfmt=2,
 xlabel={Time (s)}, ylabel={F340/F380 nm},
 legend style={at={(1.02,0.921)}, row sep=1.3pt, font=\fontsize{10.4}{12}\selectfont, nodes={inner sep=1pt, text height=7.5pt, text depth=2.2pt}}]
\addplot[vl] coordinates {(45,-0.1)(45,0.1)};
\addplot[sC=black, ebf=0.006, mark size=2pt, forget plot] table[x=t,y=h]{\tM};
\addplot[sS=pgrey, ebf=0.006, mark size=1.9pt, forget plot] table[x=t,y=g]{\tM};
\addplot[sO, ebf=0.006, mark size=2pt, forget plot] table[x=t,y=f]{\tM};
\addplot[sD=porA, ebf=0.006, mark size=2.4pt, forget plot] table[x=t,y=e]{\tM};
\addplot[sV=ppur, ebf=0.006, mark size=2.6pt, forget plot] table[x=t,y=d]{\tM};
\addplot[sT=pgreen, ebf=0.006, mark size=2.6pt, forget plot] table[x=t,y=c]{\tM};
\addplot[sS=pred, ebf=0.006, mark size=1.9pt, forget plot] table[x=t,y=b]{\tM};
\addplot[sC=pblue, ebf=0.006, mark size=2pt, forget plot] table[x=t,y=a]{\tM};
\addlegendimage{sC=pblue, mark size=2pt}\addlegendentry{\lfm 10 µM}
\addlegendimage{sS=pred, mark size=1.9pt}\addlegendentry{\lfm 1.0 µM}
\addlegendimage{sT=pgreen, mark size=2.6pt}\addlegendentry{\lfm 100 nM}
\addlegendimage{sV=ppur, mark size=2.6pt}\addlegendentry{\lfm 10 nM}
\addlegendimage{sD=porA, mark size=2.4pt}\addlegendentry{\lfm 1.0 nM}
\addlegendimage{sO, mark size=2pt}\addlegendentry{\lfm 0.1 nM}
\addlegendimage{sS=pgrey, mark size=1.9pt}\addlegendentry{\lfm 0.01 nM}
\addlegendimage{sC=black, mark size=2pt}\addlegendentry{\lfm Veh}
\end{axis}

\end{tikzpicture}
\end{document}
